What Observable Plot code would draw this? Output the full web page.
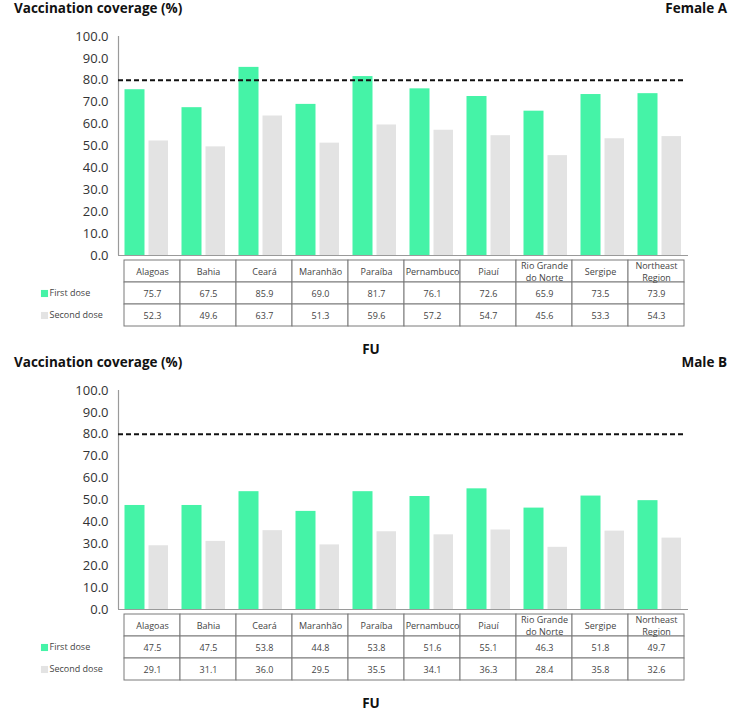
<!DOCTYPE html>
<html>
<head>
<meta charset="utf-8">
<script src="https://cdn.jsdelivr.net/npm/d3@7"></script>
<script src="https://cdn.jsdelivr.net/npm/@observablehq/plot@0.6"></script>
<style>
  body { margin: 0; background: #fff; font-family: "Open Sans", sans-serif; }
  #root { position: relative; width: 750px; height: 711px; overflow: hidden; }
  .abs { position: absolute; }
  .title { font-weight: 700; font-size: 13.5px; color: #111; line-height: 16px; white-space: nowrap; }
  svg { display: block; }
</style>
</head>
<body>
<div id="root"></div>
<script>
const states = ["Alagoas","Bahia","Ceará","Maranhão","Paraíba","Pernambuco","Piauí","Rio Grande do Norte","Sergipe","Northeast Region"];
const stateLabels = ["Alagoas","Bahia","Ceará","Maranhão","Paraíba","Pernambuco","Piauí","Rio Grande\ndo Norte","Sergipe","Northeast\nRegion"];
const femaleFirst  = [75.7, 67.5, 85.9, 69.0, 81.7, 76.1, 72.6, 65.9, 73.5, 73.9];
const femaleSecond = [52.3, 49.6, 63.7, 51.3, 59.6, 57.2, 54.7, 45.6, 53.3, 54.3];
const maleFirst    = [47.5, 47.5, 53.8, 44.8, 53.8, 51.6, 55.1, 46.3, 51.8, 49.7];
const maleSecond   = [29.1, 31.1, 36.0, 29.5, 35.5, 34.1, 36.3, 28.4, 35.8, 32.6];
const yTicks = [0, 10, 20, 30, 40, 50, 60, 70, 80, 90, 100];
const target = 80;
const seriesNames = ["First dose", "Second dose"];
const seriesColors = ["#45F3A7", "#E3E3E3"];
const panels = [
  {tag: "Female A", first: femaleFirst, second: femaleSecond},
  {tag: "Male B", first: maleFirst, second: maleSecond}
];

const root = document.getElementById("root");
const W = 750, ML = 118, MR = 62;
const innerW = W - ML - MR;

function div(cls, text, style) {
  const d = document.createElement("div");
  d.className = "abs " + cls;
  d.textContent = text;
  Object.assign(d.style, style);
  root.appendChild(d);
  return d;
}

panels.forEach((p, i) => {
  const top = i * 354;
  div("title", "Vaccination coverage (%)", {left: "14px", top: (top + 0) + "px"});
  div("title", p.tag, {right: "23px", top: (top + 0) + "px"});

  const data = states.map((s, j) => ({state: s, first: p.first[j], second: p.second[j]}));

  const bars = Plot.plot({
    width: W, height: 248,
    marginTop: 16, marginBottom: 13, marginLeft: ML, marginRight: MR,
    style: {fontFamily: "Open Sans, sans-serif", background: "transparent"},
    x: {type: "band", domain: states, padding: 0, axis: null},
    y: {domain: [0, 100]},
    marks: [
      Plot.barY(data, {x: "state", y: "first", fill: seriesColors[0], insetLeft: 6.5, insetRight: 30.5}),
      Plot.barY(data, {x: "state", y: "second", fill: seriesColors[1], insetLeft: 30.5, insetRight: 7}),
      Plot.ruleY([0], {stroke: "#9a9a9a", strokeWidth: 1.2}),
      Plot.ruleX([0], {x: null, y1: 0, y2: 100, dx: -innerW / 2, stroke: "#9a9a9a", strokeWidth: 1.2}),
      Plot.axisY(yTicks, {tickSize: 0, tickPadding: 10, fontSize: 13, fill: "#333", tickFormat: d => d.toFixed(1), label: null}),
      Plot.ruleY([target], {stroke: "#111", strokeWidth: 2, strokeDasharray: "5,3", insetRight: 5})
    ]
  });
  bars.style.position = "absolute";
  bars.style.left = "0px";
  bars.style.top = (top + 20) + "px";
  root.appendChild(bars);

  const rows = ["header", ...seriesNames];
  const cells = [];
  states.forEach((s, j) => {
    cells.push({state: s, row: "header", text: stateLabels[j]});
    cells.push({state: s, row: seriesNames[0], text: p.first[j].toFixed(1)});
    cells.push({state: s, row: seriesNames[1], text: p.second[j].toFixed(1)});
  });
  const legend = seriesNames.map((n, k) => ({row: n, color: seriesColors[k]}));

  const table = Plot.plot({
    width: W, height: 68,
    marginTop: 1, marginBottom: 1, marginLeft: ML + 1, marginRight: MR,
    style: {fontFamily: "Open Sans, sans-serif", background: "transparent", overflow: "visible"},
    x: {type: "band", domain: states, padding: 0, axis: null},
    y: {type: "band", domain: rows, padding: 0, axis: null},
    color: {type: "identity"},
    marks: [
      Plot.cell(cells, {x: "state", y: "row", fill: "white", stroke: "#7a7a7a", strokeWidth: 1}),
      Plot.text(cells, {x: "state", y: "row", text: "text", fontSize: 9, fill: "#444", lineHeight: 1.3}),
      Plot.dot(legend, {y: "row", frameAnchor: "left", dx: -75, symbol: "square", r: 4, fill: "color", stroke: null}),
      Plot.text(legend, {y: "row", text: "row", frameAnchor: "left", dx: -70, textAnchor: "start", fontSize: 9, fill: "#444"})
    ]
  });
  table.style.position = "absolute";
  table.style.left = "0px";
  table.style.top = (top + 259) + "px";
  root.appendChild(table);

  div("title", "FU", {left: "321px", width: "100px", textAlign: "center", top: (top + 342) + "px", lineHeight: "14px"});
});
</script>
</body>
</html>
